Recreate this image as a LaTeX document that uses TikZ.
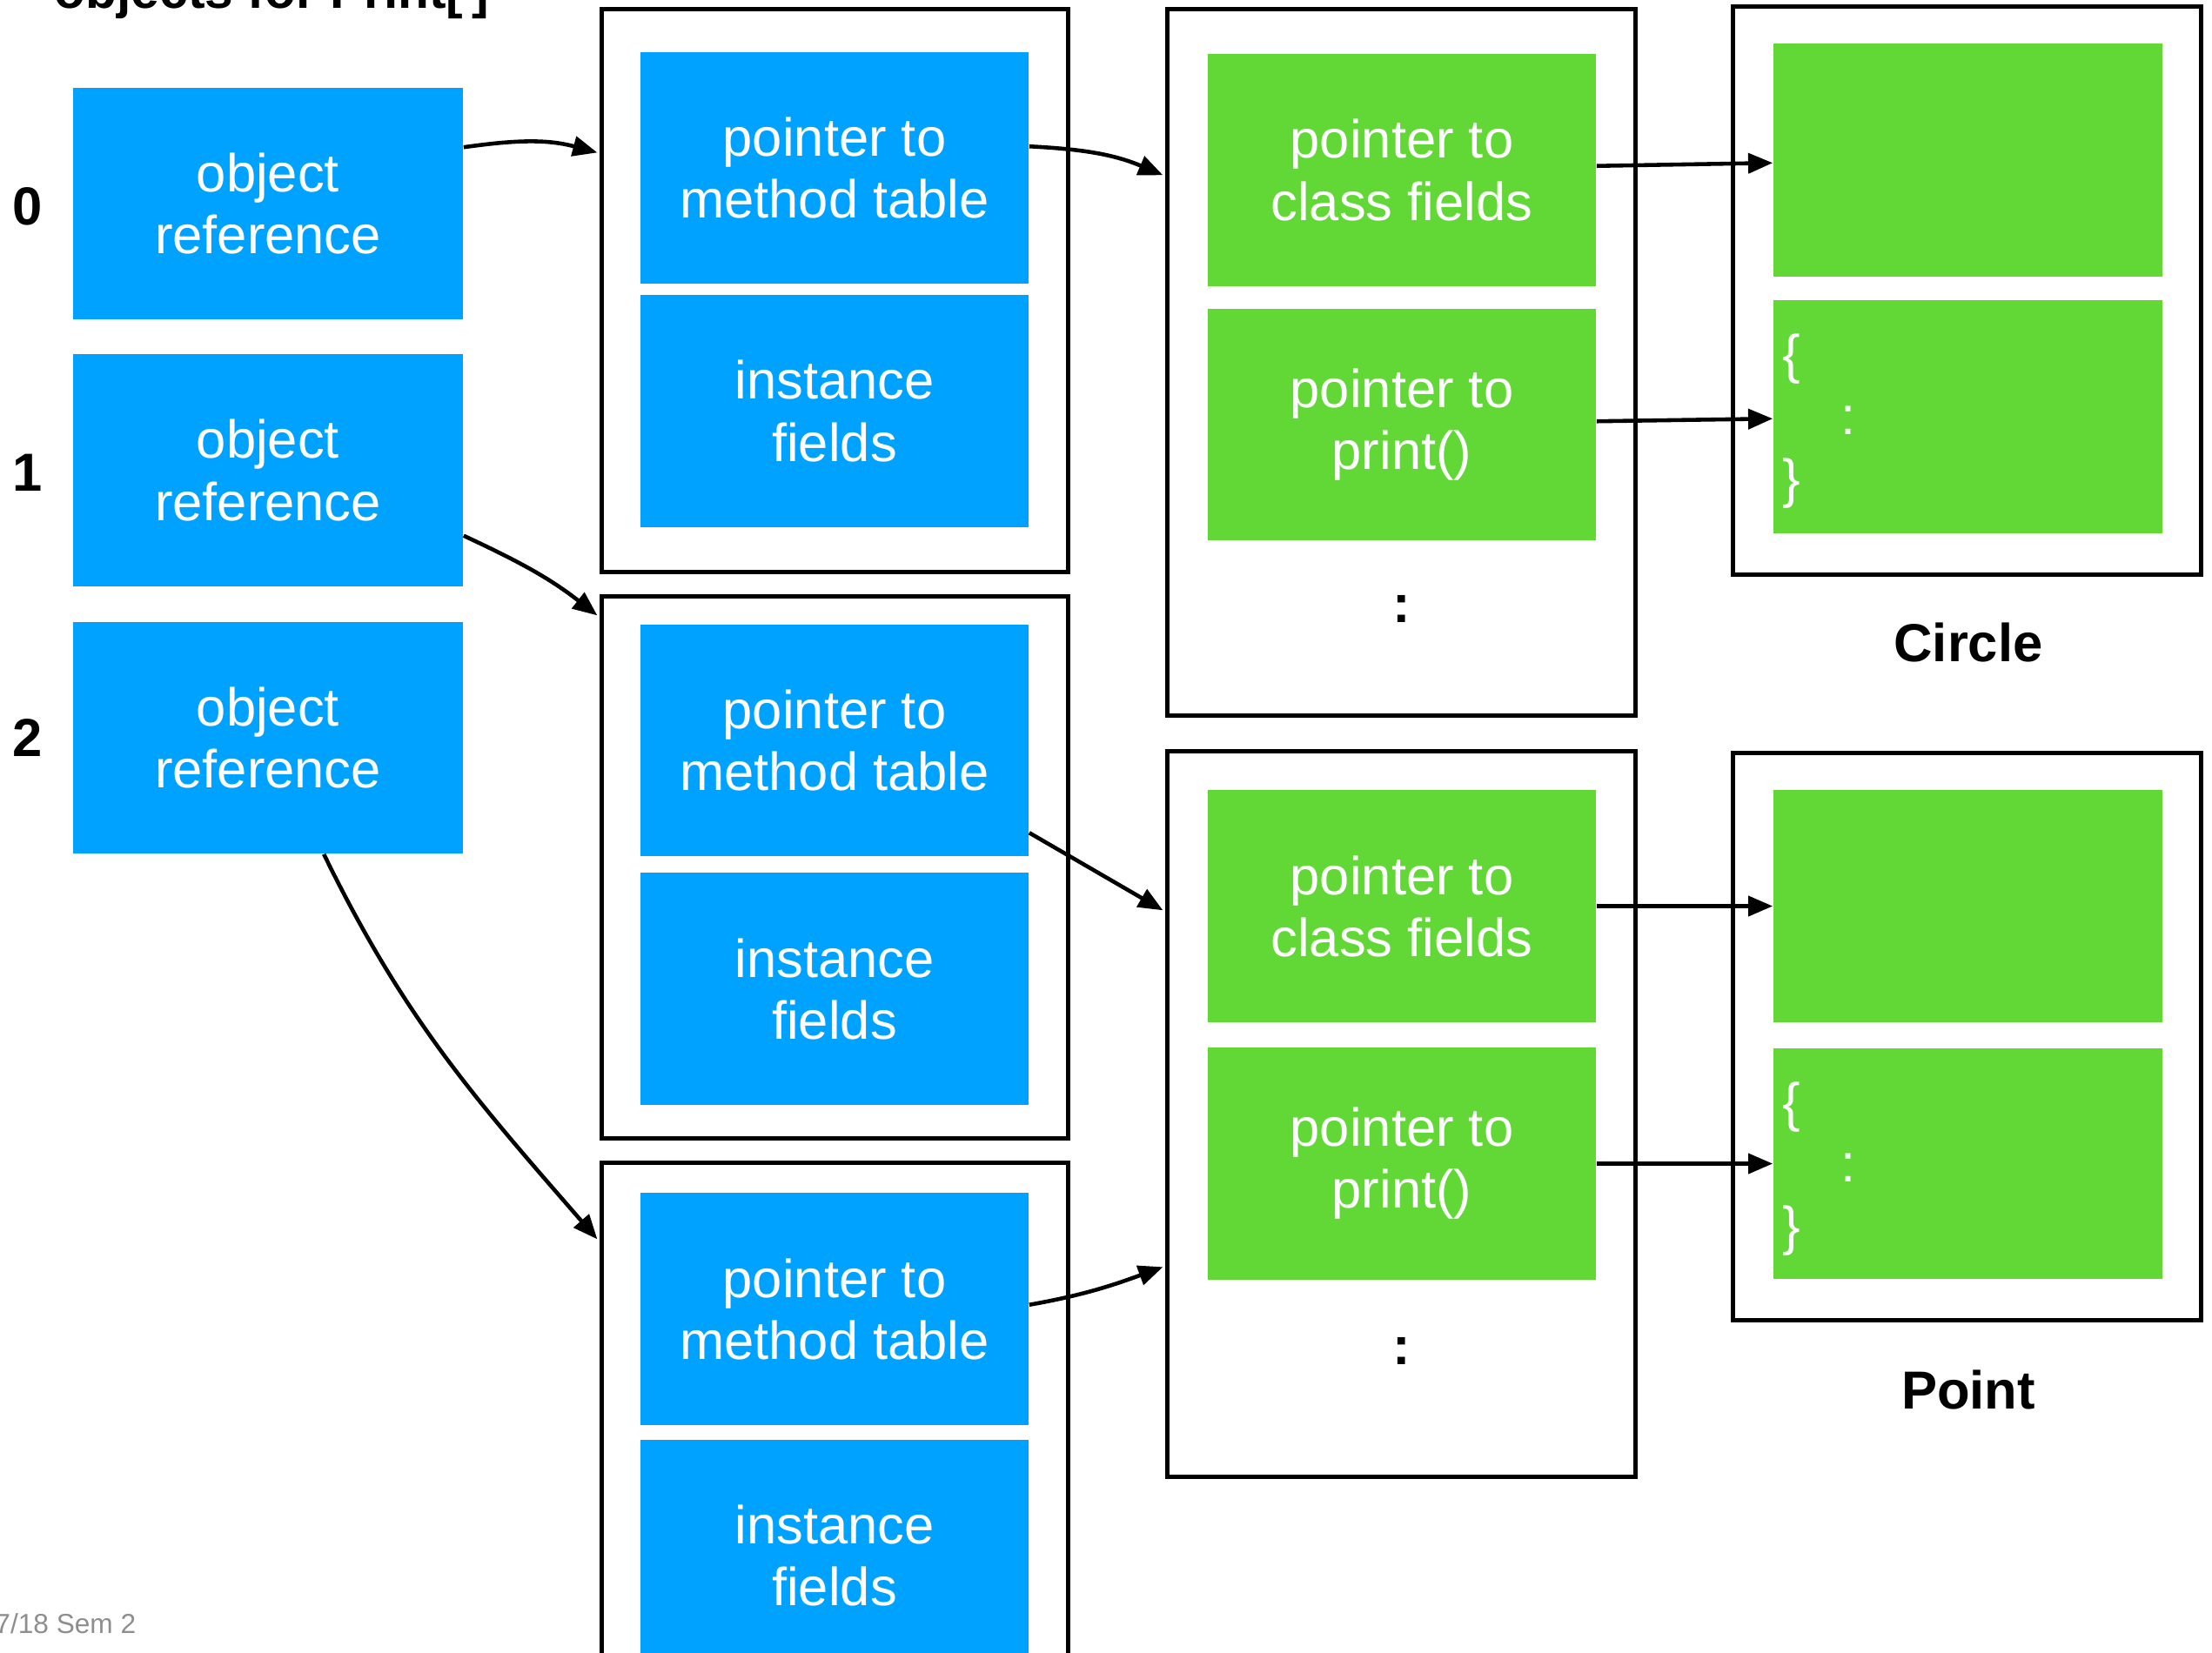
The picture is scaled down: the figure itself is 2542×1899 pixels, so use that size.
\documentclass[tikz,border=0pt]{standalone}
\usepackage{fontspec}
\setmainfont{Liberation Sans}
\usetikzlibrary{arrows.meta,calc}
\definecolor{refblue}{RGB}{0,162,255}
\definecolor{refgreen}{RGB}{97,216,54}
\definecolor{footgray}{RGB}{142,142,142}
\newcommand{\cellfont}{\fontsize{17.5}{20.2}\selectfont}

\begin{document}
\begin{tikzpicture}[x=0.01cm,y=0.01cm,
  cell/.style={inner sep=0pt, align=center, text=white, font=\cellfont,
               minimum width=4.46cm, minimum height=2.66cm},
  bluecell/.style={cell, fill=refblue},
  greencell/.style={cell, fill=refgreen},
  frame/.style={draw=black, line width=1.4pt, inner sep=0pt},
  ptr/.style={draw=black, line width=1.3pt, -{Triangle[length=8pt,width=6.5pt]}},
  heading/.style={font=\cellfont\bfseries, inner sep=0pt},
  codemark/.style={font=\cellfont, text=white, inner sep=0pt}
]
\useasboundingbox (0,0) rectangle (2542,-1899);

% title (runs off the top edge) and footer
\node[font=\fontsize{16.7}{20}\selectfont\bfseries, inner sep=0pt, anchor=base west]
  (title) at (62,-9) {objects for Print[\,]};
\node[font=\fontsize{9}{11}\selectfont, text=footgray, inner sep=0pt, anchor=base east]
  (footer) at (157,-1877) {2017/18 Sem 2};

% array indices
\node[heading] (i0) at (32,-237) {0};
\node[heading] (i1) at (32,-543) {1};
\node[heading] (i2) at (32,-848) {2};

% array slots
\node[bluecell, minimum width=4.48cm] (or0) at (308,-234) {object\\reference};
\node[bluecell, minimum width=4.48cm] (or1) at (308,-540.5) {object\\reference};
\node[bluecell, minimum width=4.48cm] (or2) at (308,-848) {object\\reference};

% objects
\node[frame, minimum width=5.35cm, minimum height=6.46cm] (fA) at (959.5,-334) {};
\node[frame, minimum width=5.35cm, minimum height=6.22cm] (fB) at (959.5,-997) {};
\node[frame, minimum width=5.35cm, minimum height=6.23cm] (fC) at (959.5,-1648.5) {};

\node[bluecell] (mA) at (959,-193) {pointer to\\method table};
\node[bluecell] (iA) at (959,-472.5) {instance\\fields};
\node[bluecell] (mB) at (959,-851) {pointer to\\method table};
\node[bluecell] (iB) at (959,-1136.5) {instance\\fields};
\node[bluecell] (mC) at (959,-1504.5) {pointer to\\method table};
\node[bluecell] (iC) at (959,-1788) {instance\\fields};

% method tables
\node[frame, minimum width=5.37cm, minimum height=8.11cm] (gTop) at (1610.5,-416.5) {};
\node[frame, minimum width=5.37cm, minimum height=8.33cm] (gBot) at (1610.5,-1280.5) {};

\node[greencell] (gc1) at (1611,-195.5) {pointer to\\class fields};
\node[greencell] (gp1) at (1611,-488) {pointer to\\print()};
\node[heading] (gd1) at (1611,-700) {:};
\node[greencell] (gc2) at (1611,-1041.5) {pointer to\\class fields};
\node[greencell] (gp2) at (1611,-1337.5) {pointer to\\print()};
\node[heading] (gd2) at (1611,-1553) {:};

% classes
\node[frame, minimum width=5.37cm, minimum height=6.52cm] (hTop) at (2260.5,-334) {};
\node[frame, minimum width=5.37cm, minimum height=6.51cm] (hBot) at (2260.5,-1191.5) {};

\node[greencell, minimum width=4.47cm, minimum height=2.68cm] (hc1) at (2261.5,-184) {};
\node[greencell, minimum width=4.47cm, minimum height=2.68cm] (hp1) at (2261.5,-479) {};
\node[greencell, minimum width=4.47cm, minimum height=2.67cm] (hc2) at (2261.5,-1041.5) {};
\node[greencell, minimum width=4.47cm, minimum height=2.65cm] (hp2) at (2261.5,-1337.5) {};

\node[codemark] (ob1) at (2059,-413) {\{};
\node[codemark] (co1) at (2124,-483) {:};
\node[codemark] (cb1) at (2059,-556) {\}};
\node[codemark] (ob2) at (2059,-1273) {\{};
\node[codemark] (co2) at (2124,-1342) {:};
\node[codemark] (cb2) at (2059,-1415) {\}};

\node[heading] (circle) at (2262,-738) {Circle};
\node[heading] (point) at (2262,-1597) {Point};

% references
\draw[ptr] ($(or0.north east)+(0,-69)$) to[out=8,in=165] ($(fA.north west)+(-3,-167)$);
\draw[ptr] ($(or1.north east)+(0,-209)$) to[out=-25,in=142] ($(fB.north west)+(-3,-24)$);
\draw[ptr] ($(or2.south west)+(289,0)$) to[out=-64,in=131] ($(fC.north west)+(-3,-90)$);

\draw[ptr] ($(mA.north east)+(0,-109)$) to[out=-3,in=157] ($(gTop.north west)+(-3,-193)$);
\draw[ptr] ($(mB.north east)+(0,-240)$) -- ($(gBot.north west)+(-3,-185)$);
\draw[ptr] ($(mC.north east)+(0,-129)$) to[out=10,in=200] ($(gBot.north west)+(-3,-595)$);

\draw[ptr] ($(gc1.north east)+(0,-129)$) -- ($(hc1.north west)+(0,-138)$);
\draw[ptr] ($(gp1.north east)+(0,-130)$) -- ($(hp1.north west)+(0,-137)$);
\draw[ptr] (gc2.east) -- (hc2.west);
\draw[ptr] (gp2.east) -- (hp2.west);
\end{tikzpicture}
\end{document}
